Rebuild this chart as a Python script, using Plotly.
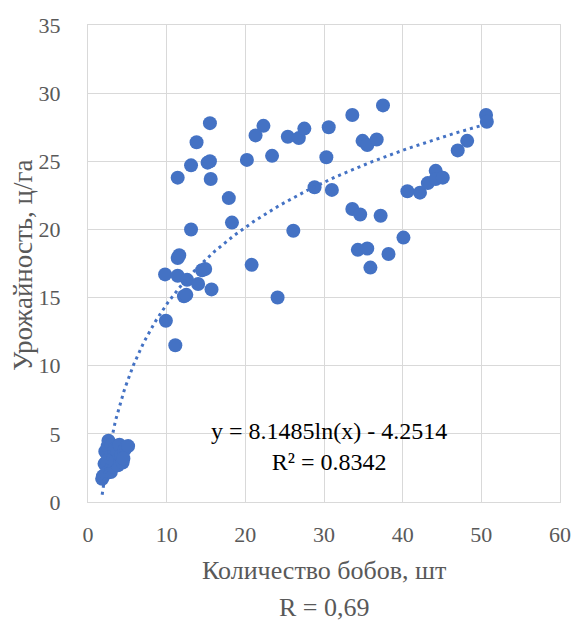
import numpy as np
import plotly.graph_objects as go

# Количество бобов, шт
beans = [
    15.5, 13.8, 13.1, 15.2, 15.5, 11.4, 15.6, 22.3, 21.3, 20.2, 23.4,
    25.4, 26.8, 27.5, 30.6, 30.3, 28.8, 31.0, 17.9, 18.3, 13.1, 26.1,
    11.6, 11.4, 20.8, 9.8, 11.4, 12.6, 14.0, 14.5, 14.9, 12.2, 12.5,
    15.7, 24.1, 9.9, 11.1,
    37.5, 33.6, 34.9, 35.5, 36.7, 33.6, 34.6, 37.2, 40.6, 42.2, 43.2,
    44.2, 44.2, 45.1, 47.0, 48.2, 50.6, 50.7, 34.3, 35.5, 35.9, 38.2, 40.1,
    1.8, 1.9, 2.1, 2.2, 2.3, 2.5, 2.6, 2.8, 2.9, 3.0, 3.2, 3.4, 3.6,
    3.8, 4.0, 4.2, 4.4, 4.6, 4.8, 5.1, 4.5, 2.4,
]
# Урожайность, ц/га
yield_ = [
    27.8, 26.4, 24.7, 24.9, 25.0, 23.8, 23.7, 27.6, 26.9, 25.1, 25.4,
    26.8, 26.7, 27.4, 27.5, 25.3, 23.1, 22.9, 22.3, 20.5, 20.0, 19.9,
    18.1, 17.9, 17.4, 16.7, 16.6, 16.3, 16.0, 17.0, 17.1, 15.1, 15.2,
    15.6, 15.0, 13.3, 11.5,
    29.1, 28.4, 26.5, 26.2, 26.6, 21.5, 21.1, 21.0, 22.8, 22.7, 23.4,
    24.3, 23.7, 23.8, 25.8, 26.5, 28.4, 27.9, 18.5, 18.6, 17.2, 18.2, 19.4,
    1.7, 1.9, 2.8, 3.7, 2.1, 4.1, 4.5, 3.3, 2.2, 4.2, 2.6, 3.9, 3.0,
    2.7, 4.2, 3.4, 2.9, 3.8, 4.0, 4.1, 3.2, 3.0,
]

coef_a = 8.1485
coef_b = -4.2514
eq_text = "y = 8.1485ln(x) - 4.2514<br>R² = 0.8342"
x_title = "Количество бобов, шт"
y_title = "Урожайность, ц/га"
r_text = "R = 0,69"
x_ticks = [0, 10, 20, 30, 40, 50, 60]
y_ticks = [0, 5, 10, 15, 20, 25, 30, 35]

blue = "#4472C4"
grey_text = "#595959"
font_family = "'Times New Roman', 'Liberation Serif', serif"

xt = np.linspace(min(beans), max(beans), 300)
yt = coef_a * np.log(xt) + coef_b

fig = go.Figure()
fig.add_trace(go.Scatter(
    x=beans, y=yield_, mode="markers",
    marker=dict(color=blue, size=14, line=dict(width=0)),
    showlegend=False,
))
fig.add_trace(go.Scatter(
    x=xt, y=yt, mode="lines",
    line=dict(color=blue, width=3, dash="3px,4px"),
    showlegend=False,
))

fig.add_annotation(
    x=30.6, y=4.06, xref="x", yref="y", text=eq_text, showarrow=False,
    font=dict(family=font_family, size=24, color="#000000"), align="center",
)
fig.add_annotation(
    x=0.5, y=-0.1426, xref="paper", yref="paper", text=x_title,
    showarrow=False, font=dict(family=font_family, size=26, color=grey_text),
    xanchor="center", yanchor="middle",
)
fig.add_annotation(
    x=0.5, y=-0.222, xref="paper", yref="paper", text=r_text,
    showarrow=False, font=dict(family=font_family, size=26, color=grey_text),
    xanchor="center", yanchor="middle",
)
fig.add_annotation(
    x=-0.138, y=0.497, xref="paper", yref="paper", text=y_title,
    textangle=-90, showarrow=False,
    font=dict(family=font_family, size=27, color=grey_text),
    xanchor="center", yanchor="middle",
)

axis_common = dict(
    showgrid=True, gridcolor="#d9d9d9", gridwidth=1.3,
    zeroline=False, showline=True, linecolor="#d9d9d9", linewidth=1.3,
    mirror=True, automargin=False, ticks="",
    tickfont=dict(family=font_family, size=22, color=grey_text),
)

fig.update_layout(
    width=574, height=624,
    margin=dict(l=88, r=14, t=25, b=122),
    paper_bgcolor="white", plot_bgcolor="white",
    xaxis=dict(range=[0, 60], tickvals=x_ticks, ticklabelstandoff=12, **axis_common),
    yaxis=dict(range=[0, 35], tickvals=y_ticks, ticklabelstandoff=22, **axis_common),
)

fig.write_html("out.html")
